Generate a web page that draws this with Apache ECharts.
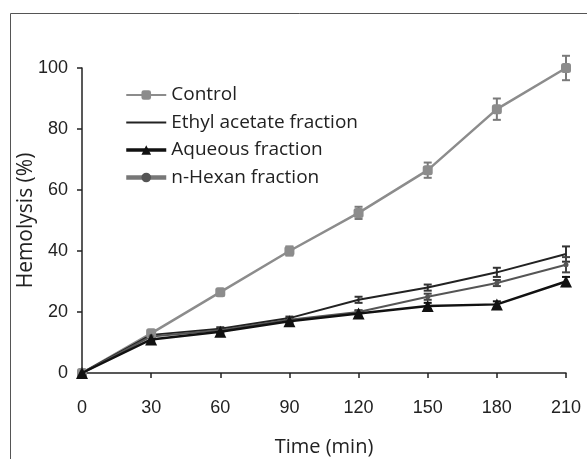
<!DOCTYPE html>
<html>
<head>
<meta charset="utf-8">
<script src="https://cdn.jsdelivr.net/npm/echarts@6/dist/echarts.min.js"></script>
<style>
    html, body { margin: 0; padding: 0; background: #fff; }
    #main { width: 587px; height: 459px; }
</style>
</head>
<body>
<div id="main"></div>
<script>
var times = [0, 30, 60, 90, 120, 150, 180, 210];
var yTicks = [0, 20, 40, 60, 80, 100];

var control = [0, 13, 26.5, 40, 52.5, 66.5, 86.5, 100];
var controlErr = [0, 1, 1, 1.5, 2, 2.5, 3.5, 4];
var ethyl = [0, 12.5, 14.5, 18, 24, 28, 33, 39];
var ethylErr = [0, 0.5, 0.5, 0.5, 1, 1, 1.5, 2.5];
var aqueous = [0, 11, 13.5, 17, 19.5, 22, 22.5, 30];
var aqueousErr = [0, 0.5, 0.5, 0.5, 1, 1, 1, 1.5];
var hexan = [0, 12, 14, 17.5, 20, 25, 29.5, 35.5];
var hexanErr = [0, 0.5, 0.5, 0.5, 0.5, 1, 1, 2.5];

function pairs(vals) {
    return vals.map(function (v, i) { return [times[i], v]; });
}
function errData(vals, errs) {
    return vals.map(function (v, i) { return [times[i], v - errs[i], v + errs[i]]; });
}
function errSeries(vals, errs, color) {
    return {
        type: 'custom',
        silent: true,
        z: 1,
        data: errData(vals, errs),
        renderItem: function (params, api) {
            var lo = api.coord([api.value(0), api.value(1)]);
            var hi = api.coord([api.value(0), api.value(2)]);
            var w = 4;
            var st = { stroke: color, lineWidth: 2 };
            return {
                type: 'group',
                children: [
                    { type: 'line', shape: { x1: lo[0], y1: lo[1], x2: hi[0], y2: hi[1] }, style: st },
                    { type: 'line', shape: { x1: lo[0] - w, y1: lo[1], x2: lo[0] + w, y2: lo[1] }, style: st },
                    { type: 'line', shape: { x1: hi[0] - w, y1: hi[1], x2: hi[0] + w, y2: hi[1] }, style: st }
                ]
            };
        }
    };
}

var myChart = echarts.init(document.getElementById('main'));
var option = {
    animation: false,
    textStyle: { fontFamily: 'Liberation Sans' },
    graphic: [
        {   // outer frame
            type: 'rect',
            shape: { x: 10.5, y: 13.5, width: 600, height: 460 },
            style: { fill: 'none', stroke: '#555', lineWidth: 1 }
        }
    ],
    grid: { left: 82, right: 21, top: 68, bottom: 86, outerBoundsMode: 'none' },
    legend: {
        orient: 'vertical',
        left: 119,
        top: 80,
        itemGap: 7.5,
        itemWidth: 40,
        itemHeight: 12,
        textStyle: { fontFamily: 'Open Sans', fontSize: 19, lineHeight: 20, color: '#222' },
        data: [
            { name: 'Control' },
            { name: 'Ethyl acetate fraction', icon: 'path://M0,0 L0,0 M0,5 L40,5 L40,7 L0,7 Z M40,12 L40,12' },
            { name: 'Aqueous fraction', lineStyle: { width: 3.5 } },
            { name: 'n-Hexan fraction', lineStyle: { width: 4.5, color: '#777' } }
        ]
    },
    xAxis: {
        type: 'value',
        min: 0,
        max: 210,
        interval: 30,
        name: 'Time (min)',
        nameLocation: 'middle',
        nameGap: 64,
        nameMoveOverlap: false,
        nameTextStyle: { fontFamily: 'Open Sans', fontSize: 20, color: '#222' },
        axisLine: { lineStyle: { color: '#222', width: 1.5 } },
        axisTick: { show: true, length: 5, lineStyle: { color: '#222', width: 1.5 } },
        axisLabel: { fontSize: 18, color: '#222', margin: 26 },
        splitLine: { show: false }
    },
    yAxis: {
        type: 'value',
        min: 0,
        max: 100,
        interval: 20,
        name: 'Hemolysis (%)',
        nameLocation: 'middle',
        nameGap: 45,
        nameMoveOverlap: false,
        nameTextStyle: { fontFamily: 'Open Sans', fontSize: 21, color: '#222' },
        axisLine: { show: true, lineStyle: { color: '#222', width: 1.5 } },
        axisTick: { show: true, length: 5, lineStyle: { color: '#222', width: 1.5 } },
        axisLabel: {
            fontSize: 18, color: '#222', margin: 14,
            formatter: function (v) { return yTicks.indexOf(v) >= 0 ? String(v) : ''; }
        },
        splitLine: { show: false }
    },
    series: [
        errSeries(control, controlErr, '#7a7a7a'),
        errSeries(ethyl, ethylErr, '#333'),
        errSeries(aqueous, aqueousErr, '#111'),
        errSeries(hexan, hexanErr, '#444'),
        {
            name: 'Control', type: 'line', z: 3,
            data: pairs(control),
            symbol: 'roundRect', symbolSize: 10,
            lineStyle: { color: '#8c8c8c', width: 2.5 },
            itemStyle: { color: '#8c8c8c' }
        },
        {
            name: 'Ethyl acetate fraction', type: 'line', z: 3,
            data: pairs(ethyl),
            symbol: 'none',
            lineStyle: { color: '#222', width: 2 },
            itemStyle: { color: '#222' }
        },
        {
            name: 'Aqueous fraction', type: 'line', z: 4,
            data: pairs(aqueous),
            symbol: 'triangle', symbolSize: 12,
            lineStyle: { color: '#111', width: 2.5 },
            itemStyle: { color: '#111' }
        },
        {
            name: 'n-Hexan fraction', type: 'line', z: 3,
            data: pairs(hexan),
            symbol: 'circle', symbolSize: 5,
            lineStyle: { color: '#555', width: 2 },
            itemStyle: { color: '#555' }
        }
    ]
};
myChart.setOption(option);
</script>
</body>
</html>
